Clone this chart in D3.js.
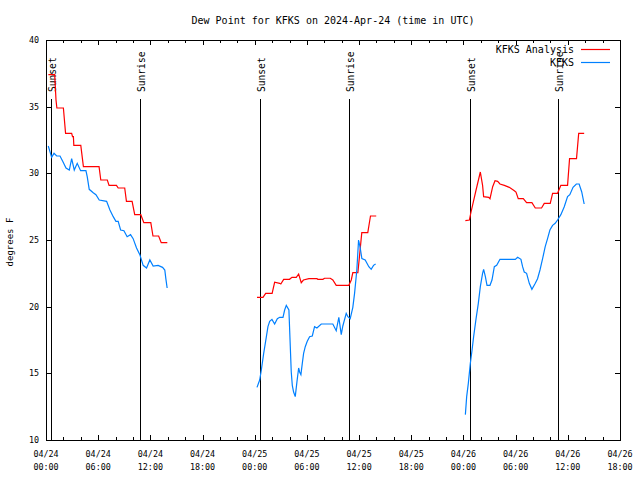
<!DOCTYPE html>
<html><head><meta charset="utf-8">
<script src="https://cdn.jsdelivr.net/npm/d3@7"></script>
<style>body{margin:0;background:#fff} svg{display:block} text{font-family:"DejaVu Sans Mono",monospace;fill:#000}</style>
</head><body><svg id="c" width="640" height="480"></svg>
<script>
const title = "Dew Point for KFKS on 2024-Apr-24 (time in UTC)";
const yLabel = "degrees F";
const startUTC = "2024-04-24T00:00:00Z";
const endUTC = "2024-04-26T18:00:00Z";
const yTicks = [10, 15, 20, 25, 30, 35, 40];
const seriesNames = ["KFKS Analysis", "KFKS"];
// sun events: [label, hours after 04/24 00:00 UTC]
const sunEvents = [["Sunset", 0.61], ["Sunrise", 10.79], ["Sunset", 24.60], ["Sunrise", 34.82], ["Sunset", 48.71], ["Sunrise", 58.82]];

// [hours after 04/24 00:00 UTC, dew point F]
const analysis1 = [[0.27,37.4],[1.0,37.4],[1.15,35.5],[1.25,34.9],[2.0,34.9],[2.25,33.0],[2.95,33.0],[3.05,32.75],[3.15,32.75],[3.2,32.1],[4.0,32.1],[4.3,30.5],[6.1,30.5],[6.3,29.5],[7.05,29.5],[7.25,29.1],[8.1,29.1],[8.3,28.9],[9.05,28.9],[9.25,27.9],[9.9,27.9],[10.2,26.9],[10.9,26.9],[11.25,26.3],[12.05,26.3],[12.3,25.3],[12.95,25.3],[13.25,24.8],[13.95,24.8]];
const analysis2 = [[24.26,20.7],[24.95,20.7],[25.26,21.0],[26.0,21.0],[26.29,21.83],[26.87,21.75],[27.0,21.7],[27.33,22.05],[28.0,22.05],[28.28,22.2],[28.78,22.2],[29.05,22.45],[29.35,21.8],[29.6,22.0],[30.23,22.1],[31.15,22.1],[31.26,22.05],[31.84,22.05],[32.03,22.13],[32.69,22.13],[32.98,22.0],[33.37,21.6],[34.82,21.6],[35.1,22.0],[35.28,22.55],[35.86,22.55],[36.31,25.55],[37.0,25.55],[37.31,26.8],[37.97,26.8]];
const analysis3 = [[48.22,26.45],[48.68,26.5],[48.87,27.1],[49.45,28.75],[49.94,30.1],[50.2,29.1],[50.32,28.25],[50.9,28.2],[51.05,28.1],[51.36,29.0],[51.63,29.45],[51.93,29.4],[52.2,29.2],[52.7,29.1],[53.27,28.95],[53.85,28.7],[54.04,28.6],[54.3,28.1],[54.88,28.1],[55.26,27.8],[55.87,27.8],[56.26,27.4],[56.98,27.4],[57.29,27.75],[57.98,27.75],[58.25,28.5],[58.82,28.5],[59.2,29.1],[59.97,29.1],[60.2,31.1],[61.0,31.1],[61.25,33.0],[61.88,33.0]];

const obs1 = [[0.26,32.05],[0.65,31.2],[0.92,31.5],[1.23,31.3],[1.61,31.3],[1.92,30.9],[2.3,30.4],[2.68,30.25],[2.95,31.1],[3.25,30.25],[3.59,30.75],[3.98,30.2],[4.59,30.2],[4.74,29.75],[4.97,28.8],[5.43,28.55],[5.74,28.4],[6.12,28.0],[6.97,27.9],[7.35,27.25],[7.73,26.75],[8.04,26.4],[8.3,26.4],[8.58,25.75],[8.96,25.7],[9.33,25.25],[9.72,25.4],[10.02,25.1],[10.41,24.4],[10.79,23.9],[11.17,23.1],[11.56,22.9],[11.94,23.5],[12.32,23.05],[12.89,23.1],[13.4,22.95],[13.66,22.75],[13.78,22.1],[13.93,21.4]];
const obs2 = [[24.26,13.95],[24.57,14.5],[24.76,15.25],[25.03,16.5],[25.34,17.75],[25.52,18.5],[25.72,18.9],[25.98,19.05],[26.29,18.7],[26.6,19.1],[26.87,19.2],[27.25,19.2],[27.44,19.75],[27.63,20.1],[27.93,19.75],[28.09,17.0],[28.2,15.1],[28.32,14.1],[28.47,13.6],[28.66,13.25],[28.86,14.4],[29.05,15.4],[29.16,15.1],[29.31,14.9],[29.47,15.75],[29.62,16.5],[29.81,17.0],[30.04,17.4],[30.31,17.75],[30.62,17.8],[30.88,18.5],[31.15,18.4],[31.65,18.7],[32.98,18.7],[33.37,18.2],[33.67,19.2],[33.95,17.9],[34.13,18.55],[34.52,19.5],[34.71,19.25],[34.98,19.1],[35.28,19.95],[35.48,21.0],[35.74,22.75],[35.94,25.0],[36.13,24.4],[36.32,23.6],[36.7,23.5],[37.12,23.0],[37.39,22.8],[37.66,23.1],[37.9,23.2]];
const obs3 = [[48.22,11.9],[48.37,13.25],[48.56,14.25],[48.79,15.75],[48.99,16.75],[49.17,17.75],[49.45,19.1],[49.71,20.25],[49.94,21.5],[50.2,22.5],[50.32,22.8],[50.52,22.25],[50.71,21.6],[51.05,21.6],[51.28,22.0],[51.55,23.0],[51.82,23.1],[52.2,23.55],[53.96,23.55],[54.23,23.7],[54.61,23.55],[54.8,23.0],[54.99,22.6],[55.26,22.5],[55.57,21.75],[55.87,21.3],[56.26,21.75],[56.52,22.1],[56.8,22.75],[57.1,23.6],[57.4,24.5],[57.67,25.1],[57.94,25.75],[58.25,26.1],[58.55,26.25],[58.82,26.5],[59.2,26.9],[59.59,27.5],[59.97,28.25],[60.23,28.4],[60.6,28.95],[60.98,29.2],[61.3,29.2],[61.6,28.6],[61.88,27.7]];

const analysisSegments = [analysis1, analysis2, analysis3];
const obsSegments = [obs1, obs2, obs3];

const L = 46, R = 620, T = 40, B = 440;
const t0 = new Date(startUTC), t1 = new Date(endUTC);
const toDate = h => new Date(t0.getTime() + h * 3600e3);
const x = d3.scaleUtc().domain([t0, t1]).range([L, R]);
const y = d3.scaleLinear().domain([10, 40]).range([B, T]);
const svg = d3.select("#c");

// ticks
const major = d3.utcHour.every(6).range(t0, new Date(t1.getTime() + 1));
const minor = d3.utcHour.every(2).range(t0, new Date(t1.getTime() + 1));
const axes = svg.append("g").attr("stroke", "#000").attr("shape-rendering", "crispEdges");
minor.forEach(d => {
  const len = major.some(m => +m === +d) ? 5 : 3;
  const xx = Math.round(x(d)) + 0.5;
  axes.append("line").attr("x1", xx).attr("x2", xx).attr("y1", B).attr("y2", B - len);
  axes.append("line").attr("x1", xx).attr("x2", xx).attr("y1", T).attr("y2", T + len);
});
yTicks.forEach(v => {
  const yy = Math.round(y(v)) + 0.5;
  axes.append("line").attr("x1", L).attr("x2", L + 5).attr("y1", yy).attr("y2", yy);
  axes.append("line").attr("x1", R).attr("x2", R - 5).attr("y1", yy).attr("y2", yy);
});
axes.append("rect").attr("x", L + 0.5).attr("y", T + 0.5).attr("width", R - L).attr("height", B - T).attr("fill", "none");

// tick labels
const fmtD = d3.utcFormat("%m/%d"), fmtH = d3.utcFormat("%H:%M");
major.forEach(d => {
  svg.append("text").attr("x", x(d)).attr("y", 457).attr("text-anchor", "middle").attr("font-size", "8.4px").text(fmtD(d));
  svg.append("text").attr("x", x(d)).attr("y", 470).attr("text-anchor", "middle").attr("font-size", "8.4px").text(fmtH(d));
});
yTicks.forEach(v => {
  svg.append("text").attr("x", 39).attr("y", y(v)).attr("dy", "0.35em").attr("text-anchor", "end").attr("font-size", "8.4px").text(v);
});

// titles
svg.append("text").attr("x", (L + R) / 2).attr("y", 20).attr("dy", "0.35em").attr("text-anchor", "middle").attr("font-size", "10px").text(title);
svg.append("text").attr("transform", `translate(10,242) rotate(-90)`).attr("dy", "0.35em").attr("text-anchor", "middle").attr("font-size", "9px").text(yLabel);

// sun events
sunEvents.forEach(([lab, h]) => {
  const xx = Math.round(x(toDate(h))) + 0.5;
  svg.append("line").attr("x1", xx).attr("x2", xx).attr("y1", 99).attr("y2", B).attr("stroke", "#000").attr("shape-rendering", "crispEdges");
  svg.append("text").attr("transform", `translate(${xx + 1},92) rotate(-90)`).attr("dy", "0.35em").attr("font-size", "9.6px").text(lab);
});

// data
const line = d3.line().x(d => x(toDate(d[0]))).y(d => y(d[1]));
analysisSegments.forEach(seg => svg.append("path").attr("d", line(seg)).attr("fill", "none").attr("stroke", "#ff0000").attr("stroke-width", 1.2));
obsSegments.forEach(seg => svg.append("path").attr("d", line(seg)).attr("fill", "none").attr("stroke", "#0080ff").attr("stroke-width", 1.2));

// legend
const legColors = ["#ff0000", "#0080ff"];
seriesNames.forEach((n, i) => {
  const ly = 49.5 + i * 13;
  svg.append("text").attr("x", 574).attr("y", ly).attr("dy", "0.35em").attr("text-anchor", "end").attr("font-size", "10px").text(n);
  svg.append("line").attr("x1", 581).attr("x2", 610).attr("y1", ly).attr("y2", ly).attr("stroke", legColors[i]).attr("stroke-width", 1.2);
});
</script></body></html>
